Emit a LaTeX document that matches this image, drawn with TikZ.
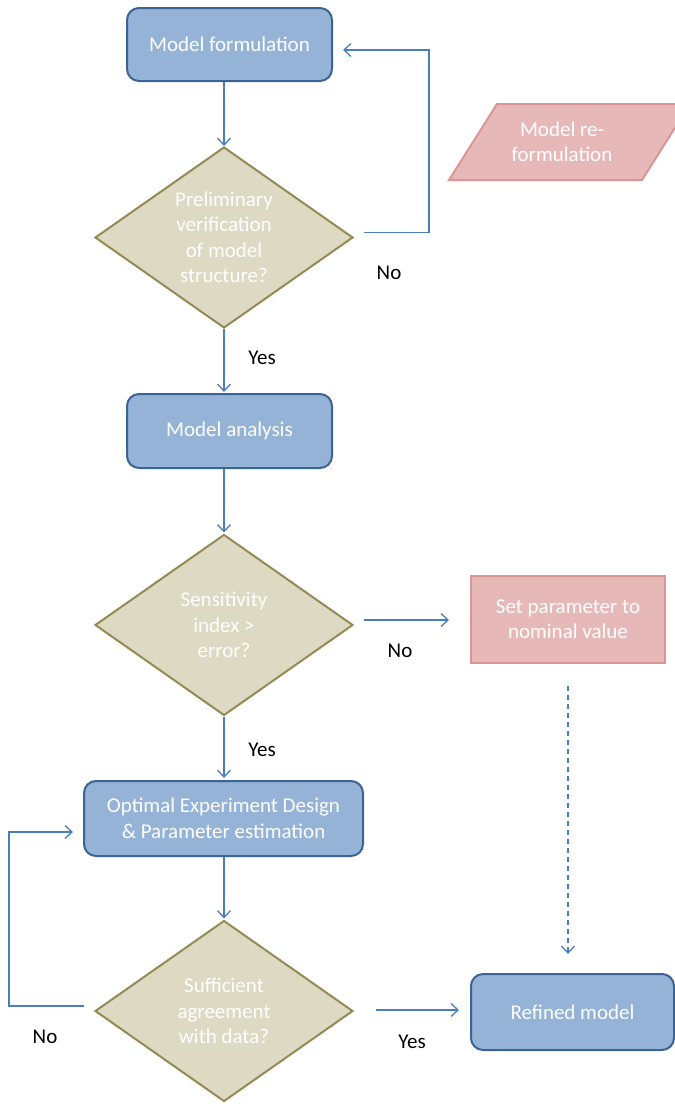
\documentclass[tikz,border=0pt]{standalone}
\usepackage{fontspec}
\setmainfont{Carlito}
\usetikzlibrary{arrows.meta,shapes.geometric}
\definecolor{procfill}{HTML}{95B3D7}
\definecolor{procline}{HTML}{3C6394}
\definecolor{decfill}{HTML}{DDD9C3}
\definecolor{decline}{HTML}{948A54}
\definecolor{altfill}{HTML}{E6B9B8}
\definecolor{altline}{HTML}{D99694}
\definecolor{flow}{HTML}{4A7EBB}
\tikzset{
  boxfont/.style={font=\fontsize{21}{25.5}\selectfont},
  proc/.style={draw=procline, fill=procfill, line width=2pt, rounded corners=12pt,
    text=white, align=center, inner sep=0pt, boxfont},
  decision/.style={diamond, draw=decline, fill=decfill, line width=2pt,
    minimum width=258pt, minimum height=181pt, inner sep=0pt, aspect=1.43,
    text=white, align=center, boxfont},
  altbox/.style={draw=altline, fill=altfill, line width=2pt,
    text=white, align=center, inner sep=0pt, boxfont},
  alttext/.style={text=white, align=center, boxfont},
  lbl/.style={text=black, font=\fontsize{21}{24}\selectfont},
  arr/.style={draw=flow, line width=1.3pt, -{Straight Barb[length=7pt,width=13pt,line width=1.3pt]}},
}
\begin{document}
\begin{tikzpicture}[x=1pt,y=-1pt]
\useasboundingbox (0,0) rectangle (675,1104);

% process and decision nodes
\node[proc, minimum width=205pt, minimum height=73pt] (formul) at (229.5,44.5) {Model formulation};
\node[decision] (d1) at (224,237.5) {Preliminary\\verification\\of model\\structure?};
\node[proc, minimum width=205pt, minimum height=74pt] (analysis) at (229.5,431) {Model analysis};
\node[decision] (d2) at (224,625) {Sensitivity\\index >\\error?};
\node[altbox, minimum width=194pt, minimum height=87pt] (setp) at (568,619.5) {Set parameter to\\nominal value};
\node[proc, minimum width=279pt, minimum height=75pt] (oed) at (223.5,818.5) {Optimal Experiment Design\\\& Parameter estimation};
\node[decision] (d3) at (224,1011) {Sufficient\\agreement\\with data?};
\node[proc, minimum width=203pt, minimum height=76pt] (refined) at (572.5,1012) {Refined model};

% re-formulation parallelogram (runs off the right edge)
\filldraw[draw=altline, fill=altfill, line width=2pt]
  (449,180) -- (497,104) -- (690,104) -- (642,180) -- cycle;
\node[alttext] (reform) at (562,142) {Model re-\\formulation};

% branch labels
\node[lbl] (no1) at (389,273) {No};
\node[lbl] (yes1) at (262,358) {Yes};
\node[lbl] (no2) at (400,651) {No};
\node[lbl] (yes2) at (262,750) {Yes};
\node[lbl] (no3) at (45,1037) {No};
\node[lbl] (yes3) at (412,1042) {Yes};

% helper coordinates for loop corners
\coordinate (loopR) at (429,0);
\coordinate (loopL) at (9,0);

% connectors
\draw[arr] (d1.north |- formul.south) -- (d1.north);
\draw[arr] ([xshift=10pt,yshift=5pt]d1.east) coordinate (s1) -- (s1 -| loopR)
  |- ([xshift=10pt,yshift=-5.5pt]formul.east);
\draw[arr, shorten >=1pt] (d1.south) -- (d1.south |- analysis.north);
\draw[arr, shorten >=1pt] (d2.north |- analysis.south) -- (d2.north);
\draw[arr, shorten >=21pt] ([xshift=10pt,yshift=5pt]d2.east) coordinate (s2) -- (s2 -| setp.west);
\draw[arr, dash pattern=on 5pt off 4pt, shorten <=22pt, shorten >=19pt] (setp.south) -- (setp.south |- refined.north);
\draw[arr, shorten >=2pt] (d2.south) -- (d2.south |- oed.north);
\draw[arr, shorten >=1pt] (d3.north |- oed.south) -- (d3.north);
\draw[arr] ([xshift=-10pt,yshift=5pt]d3.west) coordinate (s3) -- (s3 -| loopL)
  |- ([xshift=-10pt,yshift=-13.5pt]oed.west);
\draw[arr, shorten >=11pt] ([xshift=22pt,yshift=1pt]d3.east) coordinate (s4) -- (s4 -| refined.west);
\end{tikzpicture}
\end{document}
